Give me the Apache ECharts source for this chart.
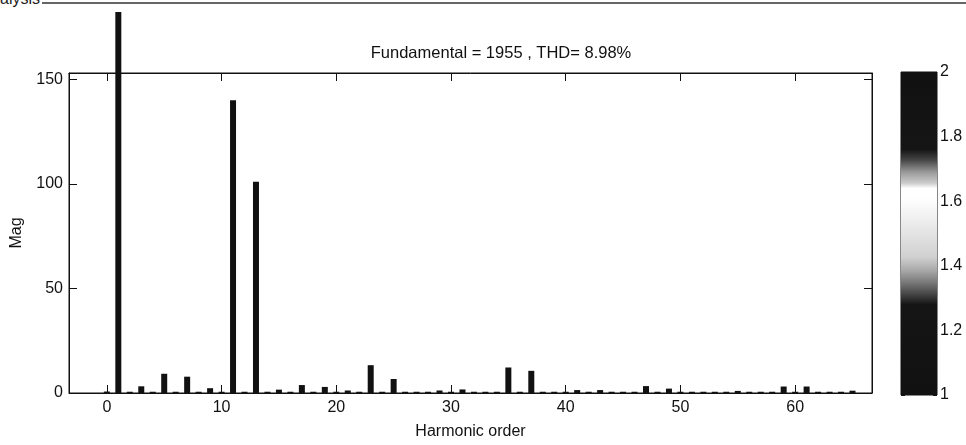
<!DOCTYPE html>
<html>
<head>
<meta charset="utf-8">
<title>FFT analysis</title>
<script src="https://cdn.jsdelivr.net/npm/echarts@6.0.0/dist/echarts.min.js"></script>
<style>
  html, body { margin: 0; padding: 0; background: #fff; }
  body { width: 966px; height: 445px; position: relative; overflow: hidden; font-family: "Liberation Sans", Arial, sans-serif; }
  #panel { position: absolute; left: 0; top: 0; width: 966px; height: 12px; overflow: hidden; }
  #panel span { position: absolute; left: -17.8px; top: -9.5px; font-size: 16px; line-height: 16px; color: #222; white-space: nowrap; }
  #panel i { position: absolute; left: 42px; right: 0; top: 2px; height: 2px; background: #666; }
  #chart { position: absolute; left: 0; top: 12px; width: 966px; height: 433px; }
</style>
</head>
<body>
<div id="panel"><span>analysis</span><i></i></div>
<div id="chart"></div>
<script>
// harmonic spectrum
var harmonicOrder = [0, 1, 2, 3, 4, 5, 6, 7, 8, 9, 10, 11, 12, 13, 14, 15, 16, 17, 18, 19, 20, 21,
  22, 23, 24, 25, 26, 27, 28, 29, 30, 31, 32, 33, 34, 35, 36, 37, 38, 39, 40, 41, 42, 43,
  44, 45, 46, 47, 48, 49, 50, 51, 52, 53, 54, 55, 56, 57, 58, 59, 60, 61, 62, 63, 64, 65];
var mag = [0.7, 1955, 0.6, 3.2, 0.6, 9.2, 0.6, 7.8, 0.6, 2.3, 0.6, 140, 0.6, 101, 0.6, 1.6, 0.6, 3.8, 0.6, 2.9, 0.6, 1.2,
  0.6, 13.3, 0.6, 6.7, 0.6, 0.6, 0.6, 1.2, 0.6, 1.7, 0.6, 0.6, 0.6, 12.2, 0.6, 10.6, 0.6, 0.6, 0.6, 1.4, 0.6, 1.4,
  0.6, 0.6, 0.6, 3.3, 0.6, 2.1, 0.6, 0.6, 0.6, 0.6, 0.6, 1.0, 0.6, 0.6, 0.6, 3.1, 0.6, 3.1, 0.6, 0.6, 0.6, 1.1];

var xTicks = [0, 10, 20, 30, 40, 50, 60];
var yTicks = [0, 50, 100, 150];
var xRange = [-3.3, 66.7];
var yRange = [0, 153];

// colour bar
var cbTicks = [1, 1.2, 1.4, 1.6, 1.8, 2];
var cbRange = [1, 2];

var titleText = 'Fundamental = 1955 , THD= 8.98%';

var font = '"Liberation Sans", Arial, sans-serif';
var ink = '#111';

var chart = echarts.init(document.getElementById('chart'));

var barData = harmonicOrder.map(function (h, i) { return [h, mag[i]]; });

var tickOnly = function (pos, grid, ticks, range) {
  return {
    gridIndex: grid, position: pos, type: 'value', min: range[0], max: range[1],
    axisLine: { show: true, onZero: false, lineStyle: { color: ink, width: 1 } },
    axisTick: { show: true, inside: true, length: 8, customValues: ticks, lineStyle: { color: ink } },
    axisLabel: { show: false },
    splitLine: { show: false }
  };
};

var option = {
  animation: false,
  backgroundColor: '#fff',
  title: {
    text: titleText,
    left: 496, top: 28, textAlign: 'center',
    textStyle: { fontFamily: font, fontSize: 16.5, fontWeight: 'normal', color: ink }
  },
  grid: [
    { left: 69, right: 94, top: 61, bottom: 52, show: true, borderColor: ink, borderWidth: 1 },
    { left: 901, right: 29, top: 60, bottom: 50, show: true, borderColor: ink, borderWidth: 1 }
  ],
  xAxis: [
    {
      gridIndex: 0, type: 'value', min: xRange[0], max: xRange[1],
      name: 'Harmonic order', nameLocation: 'middle', nameGap: 31,
      nameTextStyle: { fontFamily: font, fontSize: 16, color: ink },
      axisLine: { show: true, onZero: false, lineStyle: { color: ink, width: 1 } },
      axisTick: { show: true, inside: true, length: 8, customValues: xTicks, lineStyle: { color: ink } },
      axisLabel: { customValues: xTicks, margin: 7, fontFamily: font, fontSize: 16, color: ink },
      splitLine: { show: false }
    },
    tickOnly('top', 0, xTicks, xRange),
    { gridIndex: 1, type: 'category', data: ['cb'], show: false }
  ],
  yAxis: [
    {
      gridIndex: 0, type: 'value', min: yRange[0], max: yRange[1],
      name: 'Mag', nameLocation: 'middle', nameGap: 44, nameRotate: 90,
      nameTextStyle: { fontFamily: font, fontSize: 16, color: ink },
      axisLine: { show: true, onZero: false, lineStyle: { color: ink, width: 1 } },
      axisTick: { show: true, inside: true, length: 8, customValues: yTicks, lineStyle: { color: ink } },
      axisLabel: { customValues: yTicks, margin: 6, fontFamily: font, fontSize: 16, color: ink },
      splitLine: { show: false }
    },
    tickOnly('right', 0, yTicks, yRange),
    {
      gridIndex: 1, type: 'value', position: 'right', min: cbRange[0], max: cbRange[1],
      axisLine: { show: false },
      axisTick: { show: true, inside: true, length: 4, customValues: cbTicks, lineStyle: { color: ink } },
      axisLabel: { customValues: cbTicks, margin: 3, fontFamily: font, fontSize: 16, color: ink },
      splitLine: { show: false }
    },
    {
      gridIndex: 1, type: 'value', position: 'left', min: cbRange[0], max: cbRange[1],
      axisLine: { show: false },
      axisTick: { show: true, inside: true, length: 4, customValues: cbTicks, lineStyle: { color: ink } },
      axisLabel: { show: false },
      splitLine: { show: false }
    }
  ],
  series: [
    {
      type: 'bar', xAxisIndex: 0, yAxisIndex: 0,
      data: barData, barWidth: 6, clip: false,
      itemStyle: { color: ink }
    },
    // colour bar: invisible base up to the minimum, gradient from min to max
    {
      type: 'bar', xAxisIndex: 2, yAxisIndex: 2, stack: 'cb', barWidth: '100%',
      data: [cbRange[0]], itemStyle: { color: 'rgba(0,0,0,0)' }, silent: true
    },
    {
      type: 'bar', xAxisIndex: 2, yAxisIndex: 2, stack: 'cb', barWidth: '100%',
      data: [cbRange[1] - cbRange[0]], silent: true,
      itemStyle: {
        color: new echarts.graphic.LinearGradient(0, 0, 0, 1, [
          { offset: 0, color: '#111' },
          { offset: 0.24, color: '#151515' },
          { offset: 0.272, color: '#444' },
          { offset: 0.31, color: '#999' },
          { offset: 0.344, color: '#ccc' },
          { offset: 0.36, color: '#fff' },
          { offset: 0.39, color: '#fff' },
          { offset: 0.46, color: '#eee' },
          { offset: 0.573, color: '#d0d0d0' },
          { offset: 0.613, color: '#aaa' },
          { offset: 0.653, color: '#777' },
          { offset: 0.70, color: '#333' },
          { offset: 0.72, color: '#151515' },
          { offset: 1, color: '#111' }
        ])
      }
    }
  ]
};

chart.setOption(option);
</script>
</body>
</html>
